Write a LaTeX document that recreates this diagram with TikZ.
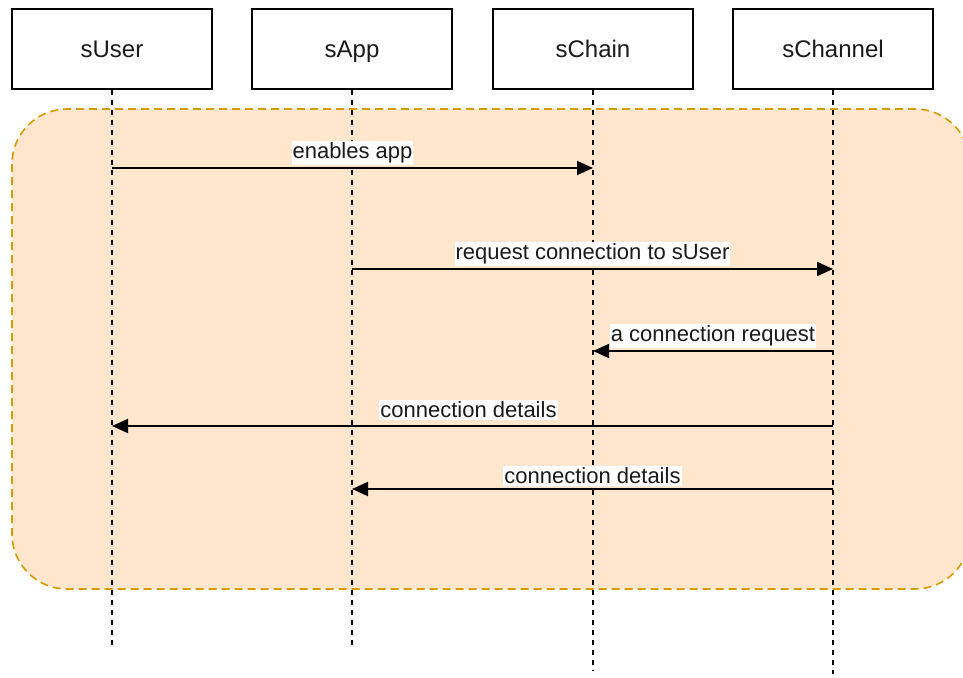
\documentclass[tikz,border=0pt]{standalone}
\usepackage{fontspec}
\setmainfont{Liberation Sans}
\usetikzlibrary{arrows.meta}
\definecolor{grpfill}{HTML}{FFE6CC}
\definecolor{grpdraw}{HTML}{D79B00}
\definecolor{txt}{HTML}{1A1A1A}
\tikzset{
  actor/.style={draw=black, line width=1.8pt, fill=white, minimum width=200pt, minimum height=80pt,
    font=\fontsize{24}{28}\selectfont, text=txt, inner sep=0pt, text height=20pt, text depth=2pt},
  lifeline/.style={draw=black, line width=1.4pt, dash pattern=on 5pt off 5pt},
  group/.style={draw=grpdraw, fill=grpfill, line width=1.6pt, dash pattern=on 8pt off 5pt, rounded corners=55pt},
  msg/.style={draw=black, line width=1.8pt, -{Triangle[length=16pt,width=14pt]}},
  msglabel/.style={fill=white, text=txt, font=\fontsize{22}{26}\selectfont, inner xsep=1pt, inner ysep=2pt, anchor=south, yshift=2pt}
}
\begin{document}
\begin{tikzpicture}[x=1pt,y=-1pt]
\useasboundingbox (0,0) rectangle (963,677);
\begin{scope}
\clip (0,0) rectangle (963,677);
\draw[group] (12,109) rectangle (970,589);
\end{scope}
% actors
\node[actor] (uU) at (112,49) {sUser};
\node[actor] (uA) at (352,49) {sApp};
\node[actor] (uC) at (593,49) {sChain};
\node[actor] (uN) at (833,49) {sChannel};
% lifeline ends
\coordinate (eU) at (112,648);
\coordinate (eA) at (352,648);
\coordinate (eC) at (593,670);
\coordinate (eN) at (833,674);
\draw[lifeline] (uU.south) -- (eU);
\draw[lifeline] (uA.south) -- (eA);
\draw[lifeline] (uC.south) -- (eC);
\draw[lifeline] (uN.south) -- (eN);
% message rows
\coordinate (m1) at (0,168);
\coordinate (m2) at (0,269);
\coordinate (m3) at (0,351);
\coordinate (m4) at (0,426);
\coordinate (m5) at (0,489);
\draw[msg] (uU |- m1) -- node[msglabel] {enables app} (uC |- m1);
\draw[msg] (uA |- m2) -- node[msglabel] {request connection to sUser} (uN |- m2);
\draw[msg] (uN |- m3) -- node[msglabel] {a connection request} (uC |- m3);
\draw[msg] (uN |- m4) -- node[msglabel, xshift=-4pt, yshift=3pt] {connection details} (uU |- m4);
\draw[msg] (uN |- m5) -- node[msglabel] {connection details} (uA |- m5);
\end{tikzpicture}
\end{document}
